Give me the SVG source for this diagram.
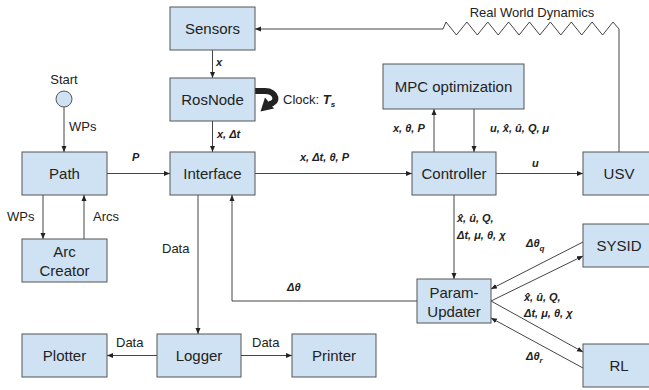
<svg xmlns="http://www.w3.org/2000/svg" width="649" height="390" viewBox="0 0 649 390">
<style>
.box{fill:#cfe2f3;stroke:#555;stroke-width:1}
.bt{font-family:"Liberation Sans",Arial,sans-serif;font-size:15px;fill:#222;text-anchor:middle}
.lb{font-family:"Liberation Sans",Arial,sans-serif;font-size:13px;fill:#222}
.mt{font-family:"Liberation Sans",Arial,sans-serif;font-size:11px;font-weight:bold;font-style:italic;fill:#222}
.ln{fill:none;stroke:#444;stroke-width:1}
</style>
<defs>
<marker id="ah" markerUnits="userSpaceOnUse" markerWidth="7" markerHeight="6" refX="6" refY="3" orient="auto">
<path d="M0,0.5 L6,3 L0,5.5 z" fill="#222"/>
</marker>
</defs>
<rect width="649" height="390" fill="#fff"/>
<g id="connectors">
<path class="ln" marker-end="url(#ah)" d="M619,152 L619,29 L613,22 L602.6,35 L592.1,22 L581.7,35 L571.3,22 L560.8,35 L550.4,22 L539.9,35 L529.5,22 L519.1,35 L508.6,22 L498.2,35 L487.8,22 L477.3,35 L466.9,22 L456.4,35 L446,22 L443,29 L255,29"/>
<line class="ln" marker-end="url(#ah)" x1="212.5" y1="50" x2="212.5" y2="78"/>
<line class="ln" marker-end="url(#ah)" x1="212.5" y1="121" x2="212.5" y2="152"/>
<line class="ln" marker-end="url(#ah)" x1="64" y1="107" x2="64" y2="152"/>
<line class="ln" marker-end="url(#ah)" x1="107" y1="173.5" x2="170" y2="173.5"/>
<line class="ln" marker-end="url(#ah)" x1="43" y1="195" x2="43" y2="239"/>
<line class="ln" marker-end="url(#ah)" x1="84" y1="239" x2="84" y2="195"/>
<line class="ln" marker-end="url(#ah)" x1="255" y1="173.5" x2="412" y2="173.5"/>
<line class="ln" marker-end="url(#ah)" x1="496" y1="173.5" x2="583" y2="173.5"/>
<line class="ln" marker-end="url(#ah)" x1="434" y1="152" x2="434" y2="109"/>
<line class="ln" marker-end="url(#ah)" x1="474" y1="109" x2="474" y2="152"/>
<line class="ln" marker-end="url(#ah)" x1="454" y1="195" x2="454" y2="279"/>
<line class="ln" marker-end="url(#ah)" x1="198" y1="195" x2="198" y2="334"/>
<path class="ln" marker-end="url(#ah)" d="M417,301 L232,301 L232,195"/>
<line class="ln" marker-end="url(#ah)" x1="157" y1="355.5" x2="107" y2="355.5"/>
<line class="ln" marker-end="url(#ah)" x1="241" y1="355.5" x2="292" y2="355.5"/>
<line class="ln" marker-end="url(#ah)" x1="583" y1="242" x2="491" y2="289"/>
<line class="ln" marker-end="url(#ah)" x1="491" y1="301" x2="583" y2="256"/>
<line class="ln" marker-end="url(#ah)" x1="491" y1="301" x2="583" y2="352"/>
<line class="ln" marker-end="url(#ah)" x1="583" y1="368" x2="491" y2="318"/>
<path d="M255,91 L265,91 C277,91 279,103 269,104" fill="none" stroke="#222" stroke-width="6"/>
<polygon points="260.5,111.5 265,97.5 274,108.5" fill="#222"/>
</g>
<g id="labels">
<text class="lb" x="64" y="84" text-anchor="middle">Start</text>
<text class="lb" x="69" y="131">WPs</text>
<text class="lb" x="7" y="221">WPs</text>
<text class="lb" x="93" y="221">Arcs</text>
<text class="lb" x="162" y="253">Data</text>
<text class="lb" x="116" y="347">Data</text>
<text class="lb" x="252" y="347">Data</text>
<text class="lb" x="532" y="17" text-anchor="middle">Real World Dynamics</text>
<text class="lb" x="283" y="104">Clock: <tspan font-weight="bold" font-style="italic">T</tspan><tspan font-weight="bold" font-style="italic" font-size="8" dy="3">s</tspan></text>
<text class="mt" x="216" y="66">x</text>
<text class="mt" x="217" y="138">x, Δt</text>
<text class="mt" x="132" y="161">P</text>
<text class="mt" x="300" y="161">x, Δt, θ, P</text>
<text class="mt" x="393" y="132">x, θ, P</text>
<text class="mt" x="490" y="132">u, x̂, û, Q, μ</text>
<text class="mt" x="532" y="167">u</text>
<text class="mt" x="457" y="222">x̂, û, Q,</text>
<text class="mt" x="457" y="239">Δt, μ, θ, χ</text>
<text class="mt" x="526" y="247">Δθ<tspan font-size="8" dy="4">q</tspan></text>
<text class="mt" x="524" y="301">x̂, û, Q,</text>
<text class="mt" x="524" y="317">Δt, μ, θ, χ</text>
<text class="mt" x="526" y="360">Δθ<tspan font-size="8" dy="3">r</tspan></text>
<text class="mt" x="287" y="291">Δθ</text>
</g>
<g id="start"><circle class="box" cx="64" cy="99" r="8"/></g>
<g id="sensors"><rect class="box" x="170" y="7" width="85" height="43"/><text class="bt" x="212.5" y="34">Sensors</text></g>
<g id="rosnode"><rect class="box" x="170" y="78" width="85" height="43"/><text class="bt" x="212.5" y="105">RosNode</text></g>
<g id="interface"><rect class="box" x="170" y="152" width="85" height="43"/><text class="bt" x="212.5" y="179">Interface</text></g>
<g id="path"><rect class="box" x="22" y="152" width="85" height="43"/><text class="bt" x="64.5" y="179">Path</text></g>
<g id="arccreator"><rect class="box" x="22" y="239" width="85" height="43"/><text class="bt" x="64.5" y="257">Arc</text><text class="bt" x="64.5" y="276">Creator</text></g>
<g id="logger"><rect class="box" x="157" y="334" width="84" height="43"/><text class="bt" x="199" y="361">Logger</text></g>
<g id="plotter"><rect class="box" x="22" y="334" width="85" height="43"/><text class="bt" x="64.5" y="361">Plotter</text></g>
<g id="printer"><rect class="box" x="292" y="334" width="84" height="43"/><text class="bt" x="334" y="361">Printer</text></g>
<g id="mpc"><rect class="box" x="383" y="64" width="141" height="45"/><text class="bt" x="453.5" y="92">MPC optimization</text></g>
<g id="controller"><rect class="box" x="412" y="152" width="84" height="43"/><text class="bt" x="454" y="179">Controller</text></g>
<g id="usv"><rect class="box" x="583" y="152" width="72" height="43"/><text class="bt" x="619" y="179">USV</text></g>
<g id="sysid"><rect class="box" x="583" y="224" width="72" height="43"/><text class="bt" x="619" y="251">SYSID</text></g>
<g id="rl"><rect class="box" x="583" y="344" width="72" height="43"/><text class="bt" x="619" y="371">RL</text></g>
<g id="paramupdater"><rect class="box" x="417" y="279" width="74" height="44"/><text class="bt" x="454" y="298">Param-</text><text class="bt" x="454" y="317">Updater</text></g>
</svg>
